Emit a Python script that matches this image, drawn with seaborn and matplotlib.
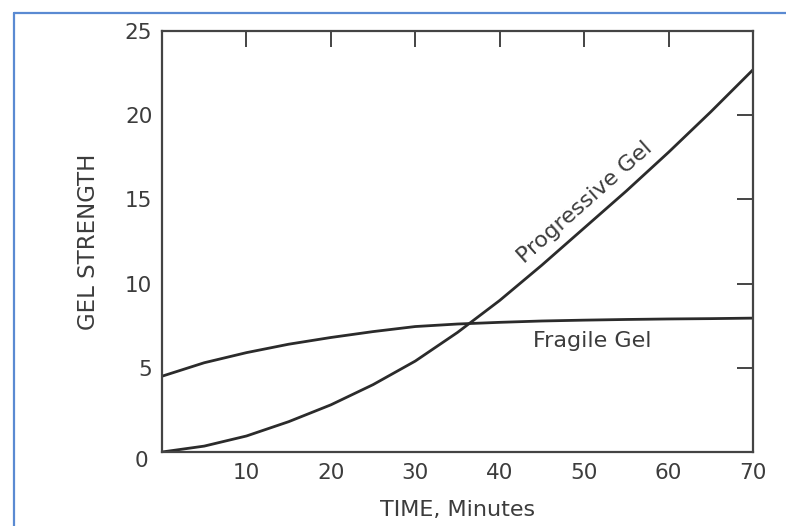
import matplotlib
matplotlib.use("Agg")
import matplotlib.pyplot as plt
import matplotlib.transforms as mtransforms
from matplotlib.lines import Line2D
import seaborn as sns
import pandas as pd

# ---- data ----
minutes = [0, 5, 10, 15, 20, 25, 30, 35, 40, 45, 50, 55, 60, 65, 70]
fragile_gel = [4.5, 5.3, 5.9, 6.4, 6.8, 7.15, 7.45, 7.6, 7.7, 7.78, 7.83, 7.87, 7.9, 7.92, 7.95]
progressive_gel = [0.0, 0.35, 0.95, 1.8, 2.8, 4.0, 5.4, 7.1, 9.0, 11.1, 13.3, 15.5, 17.8, 20.2, 22.7]
x_ticks = [0, 10, 20, 30, 40, 50, 60, 70]
x_tick_labels = ["", "10", "20", "30", "40", "50", "60", "70"]
y_ticks = [0, 5, 10, 15, 20, 25]
y_tick_labels = ["0", "5", "10", "15", "20", "25"]

df = pd.DataFrame({
    "minutes": minutes * 2,
    "strength": fragile_gel + progressive_gel,
    "gel": ["Fragile Gel"] * len(minutes) + ["Progressive Gel"] * len(minutes),
})

sns.set_theme(style="white")
plt.rcParams["font.family"] = ["DejaVu Sans"]

ink = "#2b2b2b"
text_c = "#3c3c3c"

fig = plt.figure(figsize=(7.86, 5.26), dpi=100)
fig.patch.set_facecolor("white")
ax = fig.add_axes([162 / 786, 1 - 452 / 526, (753 - 162) / 786, (452 - 31) / 526])

sns.lineplot(data=df, x="minutes", y="strength", hue="gel",
             palette={"Fragile Gel": ink, "Progressive Gel": ink},
             linewidth=2.0, legend=False, ax=ax)
for ln in ax.lines:
    ln.set_solid_joinstyle("round")

ax.set_xlim(0, 70)
ax.set_ylim(0, 25)
ax.set_xticks(x_ticks)
ax.set_xticklabels(x_tick_labels)
ax.set_yticks(y_ticks)
ax.set_yticklabels(y_tick_labels)

ax.tick_params(axis="both", direction="in", length=11.5, width=1.4, color="#444444",
               labelsize=15.5, labelcolor=text_c, top=True, right=True)
ax.tick_params(axis="x", pad=8)
ax.tick_params(axis="y", pad=7)

for s in ax.spines.values():
    s.set_linewidth(1.6)
    s.set_color("#444444")
    s.set_visible(True)

# offset the "0" label on the y axis (sits below-left of the corner)
lab0 = ax.get_yticklabels()[0]
lab0.set_transform(lab0.get_transform() + mtransforms.ScaledTranslation(-0.04, -0.07, fig.dpi_scale_trans))

ax.set_xlabel("TIME, Minutes", fontsize=16, color=text_c, labelpad=12)
ax.set_ylabel("GEL STRENGTH", fontsize=16.5, color=text_c, labelpad=18)

ax.text(44.0, 6.6, "Fragile Gel", fontsize=16, color=text_c, ha="left", va="center")
ax.text(50.1, 14.8, "Progressive Gel", fontsize=16, color=text_c, ha="center", va="center",
        rotation=41.5, rotation_mode="anchor")

# blue frame of the scan
blue = "#5a8ad2"
fig.add_artist(Line2D([14 / 786, 14 / 786], [0, 1 - 12.5 / 526], transform=fig.transFigure,
                      color=blue, linewidth=1.6))
fig.add_artist(Line2D([14 / 786, 1], [1 - 12.5 / 526, 1 - 12.5 / 526], transform=fig.transFigure,
                      color=blue, linewidth=1.6))

fig.savefig("out.png", dpi=100, facecolor="white")
